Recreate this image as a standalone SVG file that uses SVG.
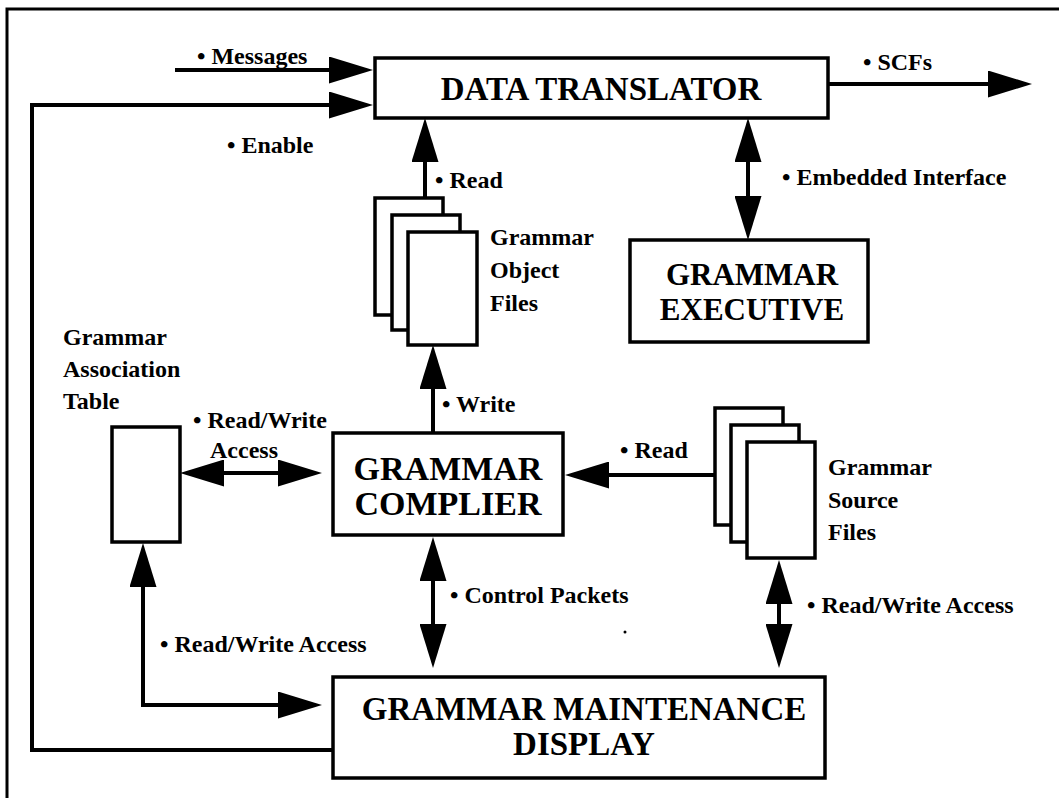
<svg xmlns="http://www.w3.org/2000/svg" width="1059" height="798" viewBox="0 0 1059 798">
  <defs>
    <style>
      .box { fill: #fff; stroke: #000; stroke-width: 3.5; }
      .sheet { fill: #fff; stroke: #000; stroke-width: 3.5; }
      .wire { fill: none; stroke: #000; stroke-width: 4; }
      .title { font-family: "Liberation Serif", "Times New Roman", serif; font-weight: bold; fill: #000; text-anchor: middle; }
      .lbl { font-family: "Liberation Serif", "Times New Roman", serif; font-weight: bold; font-size: 24px; fill: #000; }
    </style>
    <marker id="head" markerUnits="userSpaceOnUse" viewBox="0 0 44 27" markerWidth="44" markerHeight="27" refX="32" refY="13.5" orient="auto-start-reverse">
      <path d="M0,0 L44,13.5 L0,27 Z" fill="#000"/>
    </marker>
  </defs>

  <rect width="1059" height="798" fill="#fff"/>

  <!-- page frame (open to the right and bottom) -->
  <path d="M7,798 V9 H1059" fill="none" stroke="#000" stroke-width="3"/>

  <!-- connectors -->
  <g id="connectors">
    <path class="wire" d="M175,70 H361" marker-end="url(#head)"/>
    <path class="wire" d="M333,750 H32 V105 H361" marker-end="url(#head)"/>
    <path class="wire" d="M828,84 H1020" marker-end="url(#head)"/>
    <path class="wire" d="M748,130 V228" marker-start="url(#head)" marker-end="url(#head)"/>
    <path class="wire" d="M425,198 V130" marker-end="url(#head)"/>
    <path class="wire" d="M433,433 V357" marker-end="url(#head)"/>
    <path class="wire" d="M715,475 H577" marker-end="url(#head)"/>
    <path class="wire" d="M192,473 H310" marker-start="url(#head)" marker-end="url(#head)"/>
    <path class="wire" d="M433,549 V656" marker-start="url(#head)" marker-end="url(#head)"/>
    <path class="wire" d="M779,572 V656" marker-start="url(#head)" marker-end="url(#head)"/>
    <path class="wire" d="M143,555 V705 H310" marker-start="url(#head)" marker-end="url(#head)"/>
  </g>

  <!-- connector labels -->
  <g id="labels">
    <text class="lbl" x="197" y="64">• Messages</text>
    <text class="lbl" x="863" y="70">• SCFs</text>
    <text class="lbl" x="227" y="153">• Enable</text>
    <text class="lbl" x="435" y="188">• Read</text>
    <text class="lbl" x="782" y="185">• Embedded Interface</text>
    <text class="lbl" x="193" y="428">• Read/Write</text>
    <text class="lbl" x="210" y="458">Access</text>
    <text class="lbl" x="442" y="412">• Write</text>
    <text class="lbl" x="620" y="458">• Read</text>
    <text class="lbl" x="450" y="603">• Control Packets</text>
    <text class="lbl" x="807" y="613">• Read/Write Access</text>
    <text class="lbl" x="160" y="652">• Read/Write Access</text>
    <circle cx="625" cy="632" r="1.5" fill="#000"/>
  </g>

  <g id="data-translator">
    <rect class="box" x="375" y="58" width="453" height="60"/>
    <text class="title" x="601" y="100" font-size="33">DATA TRANSLATOR</text>
  </g>

  <g id="grammar-executive">
    <rect class="box" x="630" y="240" width="238" height="102"/>
    <text class="title" x="752" y="285" font-size="31">GRAMMAR</text>
    <text class="title" x="752" y="320" font-size="31">EXECUTIVE</text>
  </g>

  <g id="grammar-object-files">
    <rect class="sheet" x="375" y="198" width="68" height="117"/>
    <rect class="sheet" x="392" y="215" width="68" height="115"/>
    <rect class="sheet" x="408" y="232" width="69" height="113"/>
    <text class="lbl" x="490" y="245">Grammar</text>
    <text class="lbl" x="490" y="278">Object</text>
    <text class="lbl" x="490" y="311">Files</text>
  </g>

  <g id="grammar-association-table">
    <rect class="sheet" x="112" y="427" width="68" height="115"/>
    <text class="lbl" x="63" y="345">Grammar</text>
    <text class="lbl" x="63" y="377">Association</text>
    <text class="lbl" x="63" y="409">Table</text>
  </g>

  <g id="grammar-complier">
    <rect class="box" x="333" y="433" width="230" height="102"/>
    <text class="title" x="448" y="480" font-size="34">GRAMMAR</text>
    <text class="title" x="448" y="515" font-size="34">COMPLIER</text>
  </g>

  <g id="grammar-source-files">
    <rect class="sheet" x="715" y="408" width="68" height="117"/>
    <rect class="sheet" x="731" y="425" width="68" height="117"/>
    <rect class="sheet" x="747" y="442" width="68" height="116"/>
    <text class="lbl" x="828" y="475">Grammar</text>
    <text class="lbl" x="828" y="508">Source</text>
    <text class="lbl" x="828" y="540">Files</text>
  </g>

  <g id="grammar-maintenance-display">
    <rect class="box" x="333" y="677" width="492" height="101"/>
    <text class="title" x="584" y="720" font-size="33">GRAMMAR MAINTENANCE</text>
    <text class="title" x="584" y="755" font-size="33">DISPLAY</text>
  </g>
</svg>
